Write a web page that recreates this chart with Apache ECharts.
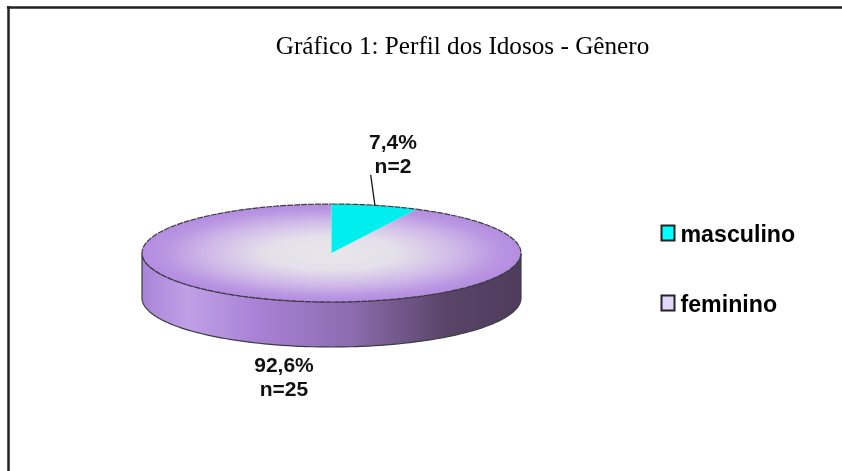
<!DOCTYPE html>
<html><head><meta charset="utf-8">
<style>html,body{margin:0;padding:0;background:#fff}#c{width:842px;height:471px}</style>
<script src="https://cdn.jsdelivr.net/npm/echarts@6/dist/echarts.min.js"></script>
</head><body><div id="c"></div>
<script>
var categories = ['masculino', 'feminino'];
var counts = [2, 25];
var chartTitle = 'Gráfico 1: Perfil dos Idosos - Gênero';

var total = counts.reduce(function (a, b) { return a + b; }, 0);
function pct(v) { return (v / total * 100).toFixed(1).replace('.', ',') + '%'; }

var CX = 331.5, CY = 253, RX = 189.5, RY = 49, DEPTH = 45;
var START = -Math.PI / 2;
function ellipsePoint(a, dy) { return [CX + RX * Math.cos(a), CY + (dy || 0) + RY * Math.sin(a)]; }

var topFill = {
  type: 'radial', global: true, x: 0, y: 0, r: RX,
  colorStops: [
    { offset: 0, color: '#e8e6ea' }, { offset: 0.35, color: '#e4e0ea' },
    { offset: 0.65, color: '#d0bae8' }, { offset: 0.88, color: '#ba96e2' }, { offset: 1, color: '#b48ce0' }
  ]
};
var wallFill = {
  type: 'linear', global: true, x: CX - RX, y: 0, x2: CX + RX, y2: 0,
  colorStops: [
    { offset: 0, color: '#a884d8' }, { offset: 0.12, color: '#c0a0e6' }, { offset: 0.3, color: '#aa82d6' },
    { offset: 0.55, color: '#8d6cb0' }, { offset: 0.8, color: '#5a4568' }, { offset: 1, color: '#4e3c5c' }
  ]
};

function arcPoints(a0, a1, dy) {
  var n = 96, out = [];
  for (var i = 0; i <= n; i++) out.push(ellipsePoint(a0 + (a1 - a0) * i / n, dy));
  return out;
}
function sliceAngles(idx) {
  var before = 0;
  for (var i = 0; i < idx; i++) before += counts[i];
  return [START + before / total * 2 * Math.PI, START + (before + counts[idx]) / total * 2 * Math.PI];
}
var OUTLINE = { stroke: '#3c3c44', lineWidth: 1.2, fill: null, lineDash: [6, 1] };

function sliceTop(idx, color) {
  var a = sliceAngles(idx);
  return {
    type: 'sector', x: CX, y: CY, scaleY: RY / RX,
    shape: { cx: 0, cy: 0, r: RX, r0: 0, startAngle: a[0], endAngle: a[1], clockwise: true },
    style: { fill: color }
  };
}
function femininoRender() {
  var a = sliceAngles(1);
  var wallPts = arcPoints(0, Math.PI, 0).concat(arcPoints(Math.PI, 0, DEPTH));
  return { type: 'group', children: [
    { type: 'polygon', shape: { points: wallPts }, style: { fill: wallFill, stroke: '#3c3c44', lineWidth: 1.2 } },
    sliceTop(1, topFill),
    { type: 'polyline', shape: { points: arcPoints(a[0], a[1], 0) }, style: OUTLINE }
  ] };
}
function masculinoRender() {
  var a = sliceAngles(0);
  return { type: 'group', children: [
    sliceTop(0, '#00eeee'),
    { type: 'polyline', shape: { points: arcPoints(a[0], a[1], 0) }, style: OUTLINE },
    { type: 'line', shape: { x1: 370.7, y1: 175, x2: 375, y2: 206 }, style: { stroke: '#111', lineWidth: 1.3 } }
  ] };
}
function label(idx, x, y) {
  return { type: 'text', x: x, y: y, style: {
    text: pct(counts[idx]) + '\nn=' + counts[idx], align: 'center', verticalAlign: 'middle',
    font: 'bold 21px "Liberation Sans"', lineHeight: 24, fill: '#111'
  } };
}

var chart = echarts.init(document.getElementById('c'), null, { renderer: 'canvas' });
chart.setOption({
  animation: false,
  backgroundColor: '#fff',
  title: {
    text: chartTitle, left: 457.5, top: 29.5, textAlign: 'center',
    textStyle: { fontFamily: '"Liberation Serif"', fontWeight: 'normal', fontSize: 25.2, color: '#000' }
  },
  legend: {
    orient: 'vertical', left: 655.5, top: 210, itemGap: 38, itemWidth: 13, itemHeight: 15,
    icon: 'rect', selectedMode: false,
    formatter: '{a|{name}}',
    textStyle: {
      rich: { a: { fontFamily: '"Liberation Sans"', fontWeight: 'bold', fontSize: 23.2, color: '#000', lineHeight: 28, verticalAlign: 'bottom', padding: [9, 0, 0, 1] } }
    },
    data: [
      { name: categories[0], itemStyle: { color: '#00ffff', borderColor: '#222', borderWidth: 2 } },
      { name: categories[1], itemStyle: { color: '#e2d8fa', borderColor: '#222', borderWidth: 2 } }
    ]
  },
  graphic: [
    { type: 'line', shape: { x1: 7, y1: 7.5, x2: 842, y2: 7.5 }, style: { stroke: '#222', lineWidth: 2.5 } },
    { type: 'line', shape: { x1: 8.5, y1: 6, x2: 8.5, y2: 471 }, style: { stroke: '#222', lineWidth: 2.5 } }
  ],
  series: [
    { type: 'custom', name: categories[1], coordinateSystem: 'none', data: [counts[1]], z: 2,
      renderItem: function () { var g = femininoRender(); g.children.push(label(1, 284, 378)); return g; } },
    { type: 'custom', name: categories[0], coordinateSystem: 'none', data: [counts[0]], z: 3,
      renderItem: function () { var g = masculinoRender(); g.children.push(label(0, 393, 155)); return g; } }
  ]
});
</script></body></html>
